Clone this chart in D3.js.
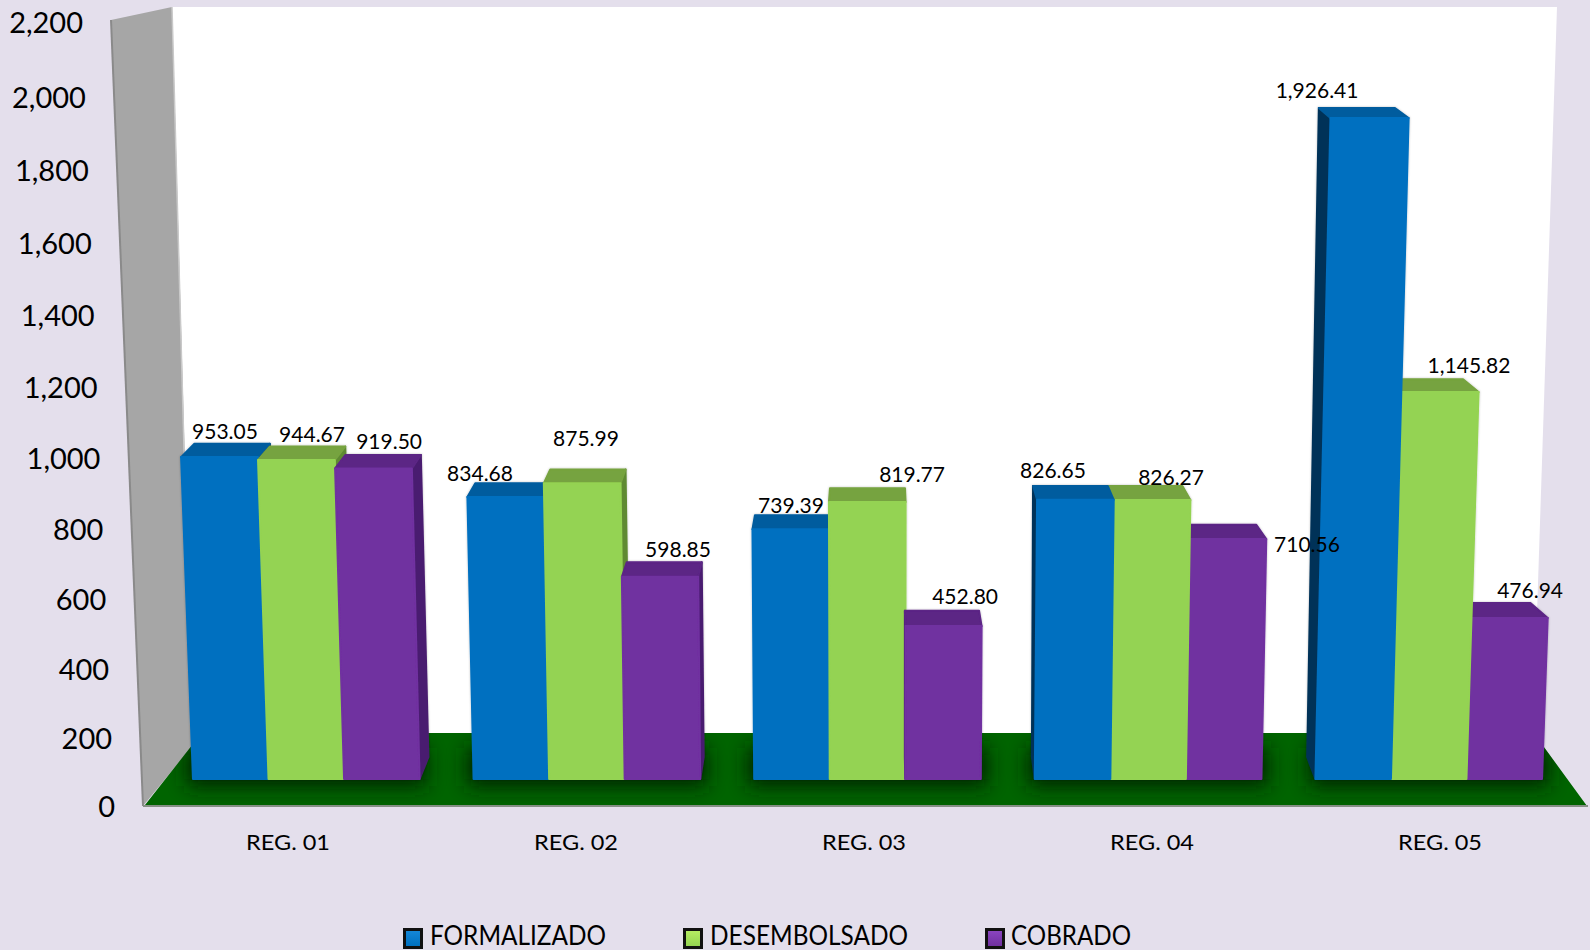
<!DOCTYPE html>
<html><head><meta charset="utf-8">
<script src="https://cdn.jsdelivr.net/npm/d3@7"></script>
<style>
html,body{margin:0;padding:0;background:#e4dfec;overflow:hidden}
svg{display:block}
text{font-family:Lato,"Open Sans",sans-serif;fill:#000}
</style></head><body>
<script>
const categories = ["REG. 01","REG. 02","REG. 03","REG. 04","REG. 05"];
const seriesNames = ["FORMALIZADO","DESEMBOLSADO","COBRADO"];
const formalizado = [953.05,834.68,739.39,826.65,1926.41];
const desembolsado = [944.67,875.99,819.77,826.27,1145.82];
const cobrado = [919.50,598.85,452.80,710.56,476.94];
const tickValues = [0,200,400,600,800,1000,1200,1400,1600,1800,2000,2200];

// layout and style, kept apart from the data
const W=1590,H=950, baseY=779, vx=883;
const tickRows=[807,739,670,600,530,459,388,316,244,171,98,23];
const front=["#0070c0","#94d352","#7030a0"];
const cap=["#005c9e","#76a33f","#5b2585"];
const side=["#003359","#5f8a33","#4a1e70"];
const labelNudge=[
 [[5.5,-27],[-25.7,-24.5],[0.3,-25],[-22.4,-30],[-52.5,-29]],
 [[15.6,-26],[3.8,-46],[44.8,-28.5],[19,-23.5],[29,-28]],
 [[15.6,-28],[18,-28],[21.6,-31],[79,4.5],[20.5,-28]]];

const values=[formalizado,desembolsado,cobrado];
const yAxisScale=d3.scaleLinear().domain(tickValues).range(tickRows);
const tickRight=d3.scaleLinear().domain([0,2200]).range([115,83]);
const yFront=d3.scaleLinear().domain([0,1145.82,1926.41]).range([baseY,392,118]);
const x0=d3.scaleBand().domain(categories).range([166,1569]).paddingInner(0.1924).paddingOuter(0.0962);
const x1=d3.scaleBand().domain(seriesNames).range([0,x0.bandwidth()]);
const xLabel=d3.scalePoint().domain(categories).range([288,1440]);
const lean=(x,v)=>x+(x-vx)*1.81e-5*v;
const depthY=d3.scaleLinear().domain([118,618,779]).range([10,15,22]);
const backX=(x,y)=>x+(vx-x)*(y>700?0.019:(x<vx?0.019:0.026));

const svg=d3.select("body").append("svg").attr("width",W).attr("height",H);
const defs=svg.append("defs");
defs.append("filter").attr("id","soft").attr("x","-30%").attr("y","-60%").attr("width","160%").attr("height","220%")
  .append("feGaussianBlur").attr("stdDeviation",10);
defs.append("filter").attr("id","glow").attr("x","-10%").attr("y","-10%").attr("width","120%").attr("height","120%")
  .append("feDropShadow").attr("dx",0).attr("dy",0).attr("stdDeviation",1).attr("flood-color","#000").attr("flood-opacity",0.25);
const floorPts=[[145,805],[193,744],[193,733],[1533,733],[1541,743],[1587,806]];
defs.append("clipPath").attr("id","floorClip").append("polygon").attr("points",floorPts.join(" "));
[["fg0","#1487d8"],["fg1","#b5ec62"],["fg2","#8a44bf"]].forEach(([id,c],i)=>{
  const g=defs.append("linearGradient").attr("id",id).attr("x1",0).attr("y1",0).attr("x2",0).attr("y2",1);
  g.append("stop").attr("offset","0").attr("stop-color",c);
  g.append("stop").attr("offset","1").attr("stop-color",front[i]);
});

svg.append("rect").attr("width",W).attr("height",H).attr("fill","#e4dfec");
// back wall
svg.append("polygon").attr("points","172,7 1557,7 1533,735 192,735").attr("fill","#fff");
// side wall
svg.append("polygon").attr("points","111,20 172,7 193,745 143,806").attr("fill","#a6a6a6");
svg.append("line").attr("x1",111).attr("y1",20).attr("x2",143).attr("y2",806).attr("stroke","#8a8a8a").attr("stroke-width",2);
svg.append("line").attr("x1",172).attr("y1",7).attr("x2",192).attr("y2",745).attr("stroke","#c9c9c9").attr("stroke-width",1.5);
// floor
svg.append("polygon").attr("points",floorPts.join(" ")).attr("fill","#006400");
svg.append("line").attr("x1",143).attr("y1",806).attr("x2",1588).attr("y2",806).attr("stroke","#858f85").attr("stroke-width",2);
const shade=svg.append("g").attr("clip-path","url(#floorClip)");
shade.selectAll("rect").data(categories).join("rect")
  .attr("x",d=>x0(d)-6).attr("width",x0.bandwidth()+12)
  .attr("y",748).attr("height",38).attr("fill","#002400").attr("filter","url(#soft)");

// bars
const barsRoot=svg.append("g");
categories.forEach((cat,i)=>{
  const centre=x0(cat)+x0.bandwidth()/2;
  const order=centre>vx+100?[2,1,0]:[0,1,2];
  const g=barsRoot.append("g").attr("filter","url(#glow)");
  order.forEach(s=>{
    const v=values[s][i], name=seriesNames[s];
    const xl=x0(cat)+x1(name), xr=xl+x1.bandwidth();
    const yt=yFront(v), tl=lean(xl,v), tr=lean(xr,v), h=depthY(yt), hb=depthY(baseY);
    const bl=[backX(tl,yt),yt-h], br=[backX(tr,yt),yt-h];
    const bottomL=[backX(xl,baseY),baseY-hb], bottomR=[backX(xr,baseY),baseY-hb];
    const poly=(pts,fill)=>g.append("polygon").attr("points",pts.join(" "))
      .attr("fill",fill).attr("stroke",fill).attr("stroke-width",2).attr("stroke-linejoin","round");
    if(xr<vx) poly([[tr,yt],br,bottomR,[xr,baseY]],side[s]);
    if(xl>vx) poly([[tl,yt],bl,bottomL,[xl,baseY]],side[s]);
    poly([[tl,yt],bl,br,[tr,yt]],cap[s]);
    poly([[tl,yt],[tr,yt],[xr,baseY],[xl,baseY]],front[s]);
  });
});

// value labels
const fmt=d3.format(",.2f");
const labels=[];
values.forEach((arr,s)=>arr.forEach((v,i)=>{
  const xl=x0(categories[i])+x1(seriesNames[s]);
  labels.push({v,x:lean(xl+x1.bandwidth()/2,v)+labelNudge[s][i][0],y:yFront(v)+labelNudge[s][i][1]});
}));
svg.append("g").selectAll("text").data(labels).join("text")
  .attr("x",d=>d.x).attr("y",d=>d.y).attr("text-anchor","middle").attr("dominant-baseline","central")
  .attr("font-size",21).text(d=>fmt(d.v));

// value axis
const axis=d3.axisLeft(yAxisScale).tickValues(tickValues).tickFormat(d3.format(",")).tickSize(0).tickPadding(0);
const ag=svg.append("g").call(axis);
ag.select(".domain").remove();
ag.selectAll(".tick").attr("transform",d=>`translate(${tickRight(d)},${yAxisScale(d)})`);
ag.selectAll("text").attr("font-size",29).attr("dy","0.35em").style("font-family",'Lato,"Open Sans",sans-serif');

// category axis
svg.append("g").selectAll("text").data(categories).join("text")
  .attr("x",d=>xLabel(d)).attr("y",841).attr("text-anchor","middle").attr("dominant-baseline","central")
  .attr("font-size",22).attr("textLength",84).attr("lengthAdjust","spacingAndGlyphs").text(d=>d);

// legend
const legendSwatch=[403,683,985], legendText=[430,710,1011], legendLen=[176,198,120];
const lg=svg.append("g").selectAll("g").data(seriesNames).join("g");
lg.append("rect").attr("x",(d,i)=>legendSwatch[i]).attr("y",928).attr("width",20).attr("height",21).attr("fill","#111");
lg.append("rect").attr("x",(d,i)=>legendSwatch[i]+3).attr("y",931).attr("width",14).attr("height",15).attr("fill",(d,i)=>`url(#fg${i})`);
lg.append("text").attr("x",(d,i)=>legendText[i]).attr("y",944.5)
  .attr("font-size",26).attr("textLength",(d,i)=>legendLen[i]).attr("lengthAdjust","spacingAndGlyphs").text(d=>d);
</script>
</body></html>
